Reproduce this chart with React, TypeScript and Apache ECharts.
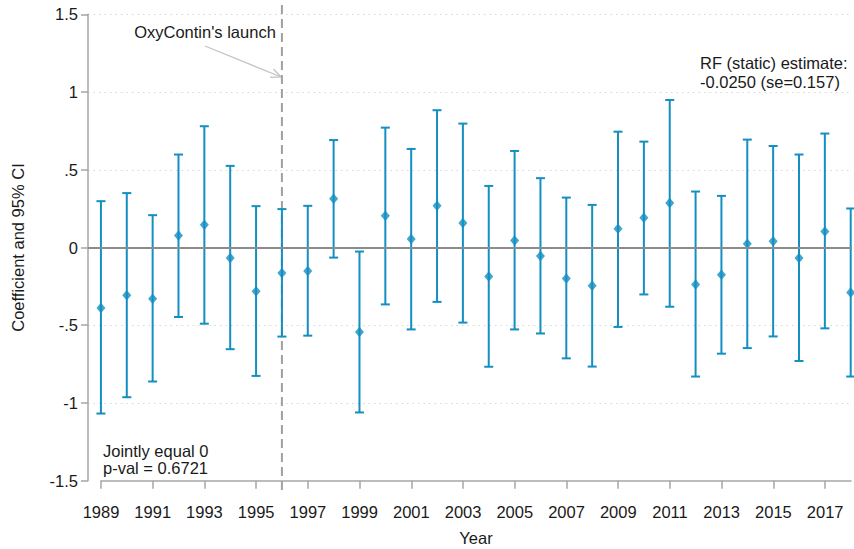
import React, { useEffect, useRef } from "react";
import * as echarts from "echarts";

const years = [1989, 1990, 1991, 1992, 1993, 1994, 1995, 1996, 1997, 1998, 1999, 2000, 2001, 2002, 2003, 2004, 2005, 2006, 2007, 2008, 2009, 2010, 2011, 2012, 2013, 2014, 2015, 2016, 2017, 2018];
const coef = [-0.389, -0.307, -0.329, 0.077, 0.146, -0.067, -0.282, -0.164, -0.151, 0.314, -0.543, 0.204, 0.054, 0.268, 0.157, -0.187, 0.045, -0.054, -0.2, -0.246, 0.12, 0.191, 0.287, -0.238, -0.175, 0.024, 0.041, -0.068, 0.103, -0.29];
const upper = [0.298, 0.35, 0.208, 0.598, 0.78, 0.525, 0.266, 0.247, 0.268, 0.691, -0.026, 0.771, 0.634, 0.883, 0.797, 0.396, 0.621, 0.446, 0.321, 0.274, 0.745, 0.681, 0.949, 0.36, 0.332, 0.694, 0.653, 0.598, 0.733, 0.251];
const lower = [-1.068, -0.963, -0.862, -0.447, -0.49, -0.654, -0.826, -0.573, -0.567, -0.065, -1.061, -0.366, -0.527, -0.35, -0.483, -0.767, -0.527, -0.553, -0.713, -0.766, -0.511, -0.302, -0.381, -0.83, -0.683, -0.647, -0.572, -0.73, -0.52, -0.83];
const xTickYears = [1989, 1991, 1993, 1995, 1997, 1999, 2001, 2003, 2005, 2007, 2009, 2011, 2013, 2015, 2017];
const yTickLabels: Record<string, string> = { "1.5": "1.5", "1": "1", "0.5": ".5", "0": "0", "-0.5": "-.5", "-1": "-1", "-1.5": "-1.5" };
const launchYear = 1996;
const plotRegionTop = 1.56;
const plotRegionBottom = -1.58;

const BLUE = "#138fc2";
const FONT = "Liberation Sans, Arial, Helvetica, sans-serif";
const TXT = "#1a1a1a";
const FS = 16.5;

export default function App() {
  const ref = useRef<HTMLDivElement>(null);
  useEffect(() => {
    const chart = echarts.init(ref.current!, null, { renderer: "svg" });
    const ciData = years.map((y, i) => [y, lower[i], upper[i]]);
    const ptData = years.map((y, i) => [y, coef[i]]);

    // arrow geometry (annotation)
    const ax1 = 205, ay1 = 46, ax2 = 281, ay2 = 77;
    const ang = Math.atan2(ay2 - ay1, ax2 - ax1);
    const hl = 11, spread = 0.42;
    const w1 = [ax2 - hl * Math.cos(ang - spread), ay2 - hl * Math.sin(ang - spread)];
    const w2 = [ax2 - hl * Math.cos(ang + spread), ay2 - hl * Math.sin(ang + spread)];

    chart.setOption({
      animation: false,
      backgroundColor: "#ffffff",
      textStyle: { fontFamily: FONT },
      grid: [
        { left: 88, right: 2, top: 14.3, bottom: 68.3, outerBoundsMode: "none", containLabel: false },
        { left: 101, right: 3, top: 14.3, bottom: 68.3, outerBoundsMode: "none", containLabel: false },
      ],
      xAxis: [
        { type: "value", gridIndex: 0, min: 1988.5, max: 2018.05, show: false, splitLine: { show: false } },
        {
          type: "value",
          gridIndex: 1,
          min: 1989,
          max: 2018,
          position: "bottom",
          offset: 12.6,
          name: "Year",
          nameLocation: "middle",
          nameGap: 36,
          nameTextStyle: { fontSize: FS, color: TXT, fontFamily: FONT },
          axisLine: { show: true, lineStyle: { color: "#a6a6a6", width: 1.5 } },
          axisTick: { show: true, length: 8, customValues: xTickYears, lineStyle: { color: "#a6a6a6", width: 1.5 } },
          axisLabel: {
            customValues: xTickYears,
            formatter: (v: number) => String(v),
            fontSize: FS,
            color: TXT,
            fontFamily: FONT,
            margin: 10,
          },
          splitLine: { show: false },
        },
      ],
      yAxis: [
        {
          type: "value",
          gridIndex: 0,
          min: -1.5,
          max: 1.5,
          interval: 0.5,
          name: "Coefficient and 95% CI",
          nameLocation: "middle",
          nameRotate: 90,
          nameGap: 62,
          nameTextStyle: { fontSize: FS, color: TXT, fontFamily: FONT },
          axisLine: { show: true, lineStyle: { color: "#a6a6a6", width: 1.5 } },
          axisTick: { show: true, length: 7, lineStyle: { color: "#a6a6a6", width: 1.5 } },
          axisLabel: {
            fontSize: FS,
            color: TXT,
            fontFamily: FONT,
            margin: 10,
            formatter: (v: number) => yTickLabels[String(v)] ?? String(v),
          },
          splitLine: {
            show: true,
            showMinLine: false,
            lineStyle: { color: "#d6d6d6", width: 1, type: [1.5, 4] },
          },
        },
        { type: "value", gridIndex: 1, min: 0, max: 1, show: false, splitLine: { show: false } },
      ],
      series: [
        {
          type: "line",
          xAxisIndex: 0,
          yAxisIndex: 0,
          data: [[launchYear, plotRegionTop], [launchYear, plotRegionBottom]],
          clip: false,
          symbol: "none",
          silent: true,
          z: 1,
          lineStyle: { color: "#a0a0a0", width: 2, type: [9, 5] },
        },
        {
          type: "line",
          xAxisIndex: 0,
          yAxisIndex: 0,
          data: [],
          markLine: {
            silent: true,
            symbol: "none",
            label: { show: false },
            lineStyle: { color: "#8c8c8c", width: 2, type: "solid" },
            data: [{ yAxis: 0 }],
          },
          z: 2,
        },
        {
          type: "custom",
          xAxisIndex: 0,
          yAxisIndex: 0,
          data: ciData,
          encode: { x: 0, y: [1, 2] },
          clip: false,
          z: 3,
          renderItem: (params: any, api: any) => {
            const x = api.value(0);
            const lo = api.coord([x, api.value(1)]);
            const hi = api.coord([x, api.value(2)]);
            const hw = 4.5;
            const st = { stroke: BLUE, lineWidth: 2 };
            return {
              type: "group",
              children: [
                { type: "line", shape: { x1: lo[0], y1: lo[1], x2: hi[0], y2: hi[1] }, style: st },
                { type: "line", shape: { x1: hi[0] - hw, y1: hi[1], x2: hi[0] + hw, y2: hi[1] }, style: st },
                { type: "line", shape: { x1: lo[0] - hw, y1: lo[1], x2: lo[0] + hw, y2: lo[1] }, style: st },
              ],
            };
          },
        },
        {
          type: "scatter",
          xAxisIndex: 0,
          yAxisIndex: 0,
          data: ptData,
          symbol: "diamond",
          symbolSize: [9, 10.5],
          clip: false,
          z: 4,
          itemStyle: { color: BLUE },
        },
      ],
      graphic: [
        {
          type: "text",
          x: 205,
          y: 31.7,
          style: { text: "OxyContin's launch", font: `${FS}px ${FONT}`, fill: TXT, align: "center", verticalAlign: "middle" },
        },
        {
          type: "line",
          shape: { x1: ax1, y1: ay1, x2: ax2, y2: ay2 },
          style: { stroke: "#c4c4c4", lineWidth: 1.3 },
        },
        {
          type: "polyline",
          shape: { points: [w1, [ax2, ay2], w2] },
          style: { stroke: "#c4c4c4", lineWidth: 1.3, fill: null },
        },
        {
          type: "text",
          x: 700,
          y: 63.3,
          style: { text: "RF (static) estimate:", font: `${FS}px ${FONT}`, fill: TXT, align: "left", verticalAlign: "middle" },
        },
        {
          type: "text",
          x: 700,
          y: 81.7,
          style: { text: "-0.0250 (se=0.157)", font: `${FS}px ${FONT}`, fill: TXT, align: "left", verticalAlign: "middle" },
        },
        {
          type: "text",
          x: 103,
          y: 450.7,
          style: { text: "Jointly equal 0", font: `${FS}px ${FONT}`, fill: TXT, align: "left", verticalAlign: "middle" },
        },
        {
          type: "text",
          x: 103,
          y: 467.7,
          style: { text: "p-val = 0.6721", font: `${FS}px ${FONT}`, fill: TXT, align: "left", verticalAlign: "middle" },
        },
      ],
    });
    return () => chart.dispose();
  }, []);
  return <div ref={ref} style={{ position: "fixed", left: 0, top: 0, width: 854, height: 549, background: "#fff" }} />;
}
